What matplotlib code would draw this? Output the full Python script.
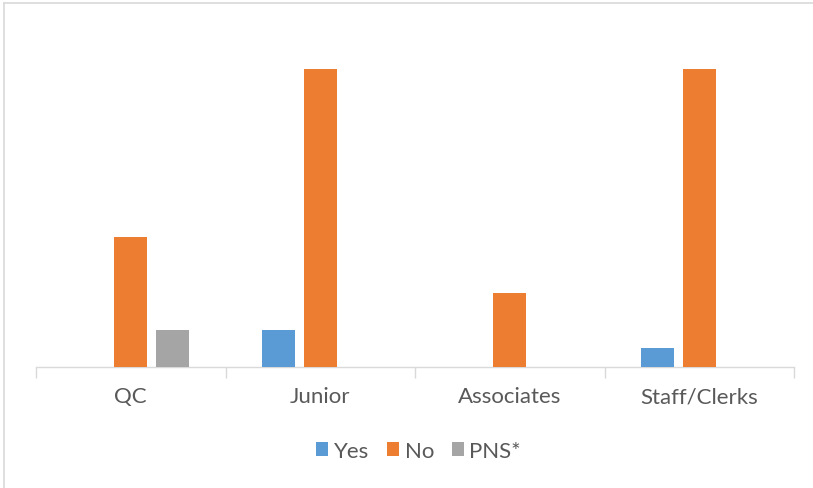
import matplotlib
matplotlib.use("Agg")
import matplotlib.pyplot as plt
from matplotlib.lines import Line2D
import numpy as np

categories = ["QC", "Junior", "Associates", "Staff/Clerks"]
yes_vals = [0, 2, 0, 1]
no_vals = [7, 16, 4, 16]
pns_vals = [2, 0, 0, 0]
series_names = ["Yes", "No", "PNS*"]
colors = ["#5B9BD5", "#ED7D31", "#A5A5A5"]

plt.rcParams['font.family'] = ['Lato', 'DejaVu Sans']

W, H = 813, 489
fig = plt.figure(figsize=(W / 100, H / 100), dpi=100)
ax = fig.add_axes([36 / W, (H - 368) / H, (794 - 36) / W, 18 * 18.625 / H])

x = np.arange(len(categories))
bw = 0.174
off = 0.222
for i, (vals, name, c) in enumerate(zip([yes_vals, no_vals, pns_vals], series_names, colors)):
    ax.bar(x + (i - 1) * off, vals, width=bw, color=c, label=name, zorder=3)

ax.set_xlim(-0.5, len(categories) - 0.5)
ax.set_ylim(0, 18)
ax.set_yticks([])
for s in ["top", "right", "left"]:
    ax.spines[s].set_visible(False)
ax.spines["bottom"].set_color("#D9D9D9")
ax.spines["bottom"].set_linewidth(1.0)
ax.set_xticks(np.arange(-0.5, len(categories), 1.0), minor=False)
ax.set_xticklabels([])
ax.tick_params(axis="x", which="major", length=8, color="#D9D9D9", width=1.0)
ax.set_xticks(x, minor=True)
ax.set_xticklabels(categories, minor=True)
ax.tick_params(axis="x", which="minor", length=0, pad=14, labelsize=16, labelcolor="#595959")

leg = fig.legend(loc="center", bbox_to_anchor=(418.5 / W, (H - 452) / H), ncol=3, frameon=False,
                 fontsize=16, labelcolor="#595959", handlelength=0.55, handleheight=0.55,
                 handletextpad=0.25, columnspacing=0.8)

# chart frame (left and top edges visible)
fig.add_artist(Line2D([4 / W, 4 / W], [0, 1 - 4 / H], transform=fig.transFigure, color="#D9D9D9", lw=1.2))
fig.add_artist(Line2D([4 / W, 1], [1 - 4 / H, 1 - 4 / H], transform=fig.transFigure, color="#D9D9D9", lw=1.2))

fig.savefig("out.png", dpi=100)
